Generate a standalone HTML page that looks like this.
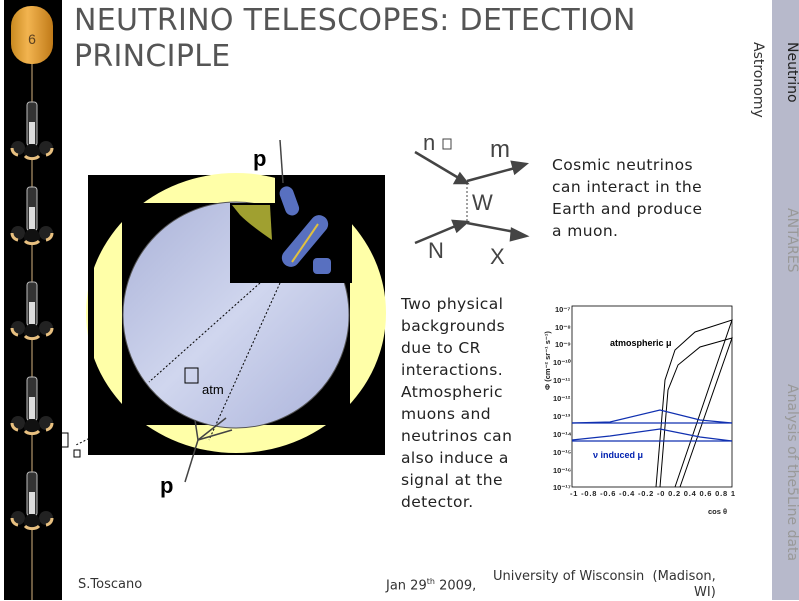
<!DOCTYPE html>
<html><head><meta charset="utf-8"><style>
body{margin:0;width:799px;height:600px;background:#fff;position:relative;overflow:hidden;font-family:"DejaVu Sans","Liberation Sans",sans-serif}
.a{position:absolute;white-space:nowrap}
</style></head><body>
<div class="a" style="left:4px;top:0;width:58px;height:600px;background:#000"></div>
<svg class="a" style="left:0;top:0" width="80" height="600">
<defs><linearGradient id="og" x1="0" x2="1"><stop offset="0" stop-color="#c98a20"/><stop offset=".4" stop-color="#f2b450"/><stop offset="1" stop-color="#c07a18"/></linearGradient></defs>
<rect x="11" y="6" width="42" height="58" rx="20" fill="url(#og)"/>
<text x="32" y="44" font-size="14" text-anchor="middle" fill="#5a4020" font-family="Liberation Sans">6</text>
<line x1="32" y1="64" x2="32" y2="600" stroke="#6b5a40" stroke-width="2"/>
<g id="m"><rect x="27" y="102" width="10" height="44" rx="3" fill="#333" stroke="#bbb"/><rect x="29" y="122" width="6" height="22" fill="#ddd"/>
<circle cx="18" cy="148" r="7" fill="#222"/><circle cx="46" cy="148" r="7" fill="#222"/><circle cx="32" cy="152" r="8" fill="#111"/>
<path d="M12 148 a7 7 0 0 0 6 7" stroke="#e8c080" stroke-width="3" fill="none"/><path d="M52 148 a7 7 0 0 1 -6 7" stroke="#e8c080" stroke-width="3" fill="none"/><path d="M25 156 a8 5 0 0 0 14 0" stroke="#e8c080" stroke-width="3" fill="none"/></g>
<use href="#m" y="85"/><use href="#m" y="180"/><use href="#m" y="275"/><use href="#m" y="370"/>
</svg>
<div class="a" style="left:74px;top:3px;font-size:30px;line-height:36px;color:#555;font-family:'DejaVu Sans',sans-serif;letter-spacing:0.3px">NEUTRINO TELESCOPES: DETECTION<br>PRINCIPLE</div>
<div class="a" style="left:772px;top:0;width:27px;height:600px;background:#b7b9cb"></div>
<div class="a" style="left:800px;top:42px;transform:rotate(90deg);transform-origin:0 0;font-size:14px;color:#222">Neutrino</div>
<div class="a" style="left:766px;top:42px;transform:rotate(90deg);transform-origin:0 0;font-size:14px;color:#333">Astronomy</div>
<div class="a" style="left:800px;top:208px;transform:rotate(90deg);transform-origin:0 0;font-size:14px;color:#999">ANTARES</div>
<div class="a" style="left:800px;top:384px;transform:rotate(90deg);transform-origin:0 0;font-size:14px;color:#999">Analysis of the5Line data</div>

<svg class="a" style="left:0;top:0" width="560" height="520">
<defs><linearGradient id="bg" x1="0" y1="0" x2="1" y2="1"><stop offset="0" stop-color="#aab2d8"/><stop offset=".5" stop-color="#d0d6ee"/><stop offset="1" stop-color="#aab2da"/></linearGradient></defs>
<rect x="88" y="175" width="297" height="280" fill="#000"/>
<ellipse cx="236" cy="313" rx="150" ry="140" fill="#ffffa8"/>
<rect x="122" y="203" width="228" height="222" fill="#000"/>
<rect x="88" y="175" width="6" height="280" fill="#000"/>
<circle cx="236" cy="315" r="113" fill="url(#bg)" stroke="#555"/>
<rect x="230" y="203" width="122" height="80" fill="#000"/>
<rect x="275" y="175" width="77" height="40" fill="#000"/>
<path d="M232 205 L270 205 L272 240 Q250 225 240 215Z" fill="#a0a030"/>
<rect x="282" y="186" width="14" height="30" rx="7" fill="#5870c0" transform="rotate(-20 289 200)"/>
<rect x="296" y="210" width="18" height="62" rx="9" fill="#5870c0" transform="rotate(40 305 241)"/>
<line x1="292" y1="262" x2="318" y2="224" stroke="#e0c040" stroke-width="2"/>
<rect x="313" y="258" width="18" height="16" rx="4" fill="#5870c0"/>
<g stroke="#000" stroke-dasharray="2 2" fill="none"><line x1="260" y1="283" x2="149" y2="382"/><line x1="280" y1="283" x2="209" y2="440"/><line x1="96" y1="435" x2="76" y2="445"/></g>
<g stroke="#444" stroke-width="1.5"><line x1="280" y1="140" x2="283" y2="183"/><line x1="185" y1="482" x2="198" y2="440"/><line x1="198" y1="440" x2="226" y2="418"/><line x1="198" y1="440" x2="232" y2="430"/><line x1="198" y1="440" x2="195" y2="420"/></g>
<rect x="185" y="368" width="13" height="15" fill="none" stroke="#000"/>
<text x="202" y="394" font-size="13" font-family="Liberation Sans">atm</text>
<text x="253" y="166" font-size="22" font-weight="bold" font-family="Liberation Sans">p</text>
<text x="160" y="493" font-size="22" font-weight="bold" font-family="Liberation Sans">p</text>
<rect x="57" y="433" width="11" height="14" fill="none" stroke="#000"/><rect x="74" y="450" width="6" height="7" fill="none" stroke="#000"/>
<g stroke="#444" stroke-width="2.5" fill="#444">
<line x1="415" y1="152" x2="462" y2="180"/><polygon points="467,183 455,183 460,174"/>
<line x1="467" y1="181" x2="515" y2="168"/><polygon points="526,164 512,162 515,173"/>
<line x1="415" y1="243" x2="458" y2="225"/><polygon points="467,222 453,221 457,231"/>
<line x1="467" y1="223" x2="515" y2="232"/><polygon points="526,236 512,229 511,240"/>
</g>
<line x1="467" y1="183" x2="467" y2="222" stroke="#444" stroke-dasharray="2 2"/>
<text x="423" y="150" font-size="22" fill="#444" font-family="Liberation Sans">n</text><rect x="443" y="139" width="8" height="10" fill="none" stroke="#444"/>
<text x="490" y="157" font-size="24" fill="#444" font-family="Liberation Sans">m</text>
<text x="472" y="210" font-size="22" fill="#444" font-family="Liberation Sans">W</text>
<text x="428" y="258" font-size="22" fill="#444" font-family="Liberation Sans">N</text>
<text x="490" y="264" font-size="22" fill="#444" font-family="Liberation Sans">X</text>
</svg>
<div class="a" style="left:552px;top:154px;font-size:15.5px;line-height:22px;color:#222;letter-spacing:0.4px">Cosmic neutrinos<br>can interact in the<br>Earth and produce<br>a muon.</div>
<div class="a" style="left:401px;top:293px;font-size:15.5px;line-height:22px;color:#222;letter-spacing:0.4px">Two physical<br>backgrounds<br>due to CR<br>interactions.<br>Atmospheric<br>muons and<br>neutrinos can<br>also induce a<br>signal at the<br>detector.</div>

<svg class="a" style="left:520px;top:290px" width="230" height="240" font-family="Liberation Sans">
<rect x="52" y="16" width="160" height="181" fill="none" stroke="#000" stroke-width="0.8"/>
<g font-size="7.5" font-weight="bold" fill="#222">
<text x="35" y="22">10⁻⁷</text><text x="35" y="40">10⁻⁸</text><text x="35" y="57">10⁻⁹</text><text x="33" y="75">10⁻¹⁰</text><text x="33" y="93">10⁻¹¹</text><text x="33" y="111">10⁻¹²</text><text x="33" y="129">10⁻¹³</text><text x="33" y="147">10⁻¹⁴</text><text x="33" y="165">10⁻¹⁵</text><text x="33" y="183">10⁻¹⁶</text><text x="33" y="200">10⁻¹⁷</text>
<text x="50" y="206" textLength="165">-1 -0.8 -0.6 -0.4 -0.2 -0 0.2 0.4 0.6 0.8 1</text>
<text x="188" y="224">cos θ</text>
<text x="30" y="100" transform="rotate(-90 30 100)">Φ (cm⁻² sr⁻¹ s⁻¹)</text>
</g>
<text x="90" y="56" font-size="9" font-weight="bold">atmospheric μ</text>
<text x="73" y="168" font-size="9" font-weight="bold" fill="#0020b0">ν induced μ</text>
<g fill="none" stroke="#000" stroke-width="1">
<path d="M136 197 L145 90 L155 60 L175 42 L212 30 L155 197"/>
<path d="M140 197 L148 100 L158 75 L180 57 L212 48 L160 197"/>
</g>
<g fill="none" stroke="#1030b0" stroke-width="1.3">
<line x1="52" y1="133" x2="212" y2="133"/><path d="M52 133 L90 132 L140 120 L180 130 L212 133"/>
<line x1="52" y1="151" x2="212" y2="151"/><path d="M52 150 L90 146 L140 139 L180 147 L212 151"/>
</g>
</svg>
<div class="a" style="left:78px;top:577px;font-size:13px;color:#333">S.Toscano</div>
<div class="a" style="left:386px;top:577px;font-size:13px;color:#333">Jan 29<sup style="font-size:8px">th</sup> 2009,</div>
<div class="a" style="left:493px;top:569px;font-size:13px;line-height:16px;color:#333;text-align:right">University of Wisconsin &nbsp;(Madison,<br>WI)</div>
</body></html>
